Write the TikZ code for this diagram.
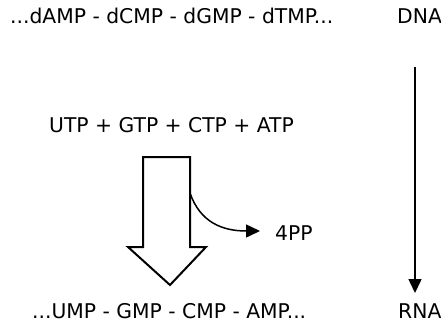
\documentclass[tikz,border=0pt]{standalone}
\usepackage{fontspec}
\setmainfont{DejaVu Sans}
\usetikzlibrary{arrows.meta}
\begin{document}
\begin{tikzpicture}[x=1pt,y=-1pt,
  txt/.style={inner sep=0pt, font=\fontsize{20.3}{24}\selectfont},
  thinarrow/.style={line width=1.5pt, -{Triangle[length=14pt,width=13pt]}},
  blockarrow/.style={line width=2pt, line join=miter, fill=white}]
\useasboundingbox (0,0) rectangle (441,322);
\node[txt, anchor=base west] (dnaseq) at (10,23) {...dAMP - dCMP - dGMP - dTMP...};
\node[txt, anchor=base west] (dna) at (397,23) {DNA};
\node[txt, anchor=base west] (ntp) at (49,132) {UTP + GTP + CTP + ATP};
\node[txt, anchor=base west] (pp) at (275,240) {4PP};
\node[txt, anchor=base west] (rnaseq) at (32,318) {...UMP - GMP - CMP - AMP...};
\node[txt, anchor=base west] (rna) at (398,318) {RNA};
% vertical DNA -> RNA arrow
\coordinate (vtop) at (415,67);
\coordinate (vbot) at (415,293);
\draw[thinarrow] (vtop) -- (vbot);
% block arrow
\coordinate (b1) at (143,247);
\coordinate (b2) at (143,157);
\coordinate (b3) at (190,157);
\coordinate (b4) at (190,247);
\coordinate (b5) at (206,247);
\coordinate (b6) at (170,285);
\coordinate (b7) at (128,247);
\draw[blockarrow] (b1) -- (b2) -- (b3) -- (b4) -- (b5) -- (b6) -- (b7) -- cycle;
% curved arrow to 4PP
\coordinate (cs) at (190,193);
\coordinate (ce) at (260,231);
\draw[thinarrow] (cs) .. controls (200,222) and (222,231) .. (ce);
\end{tikzpicture}
\end{document}
